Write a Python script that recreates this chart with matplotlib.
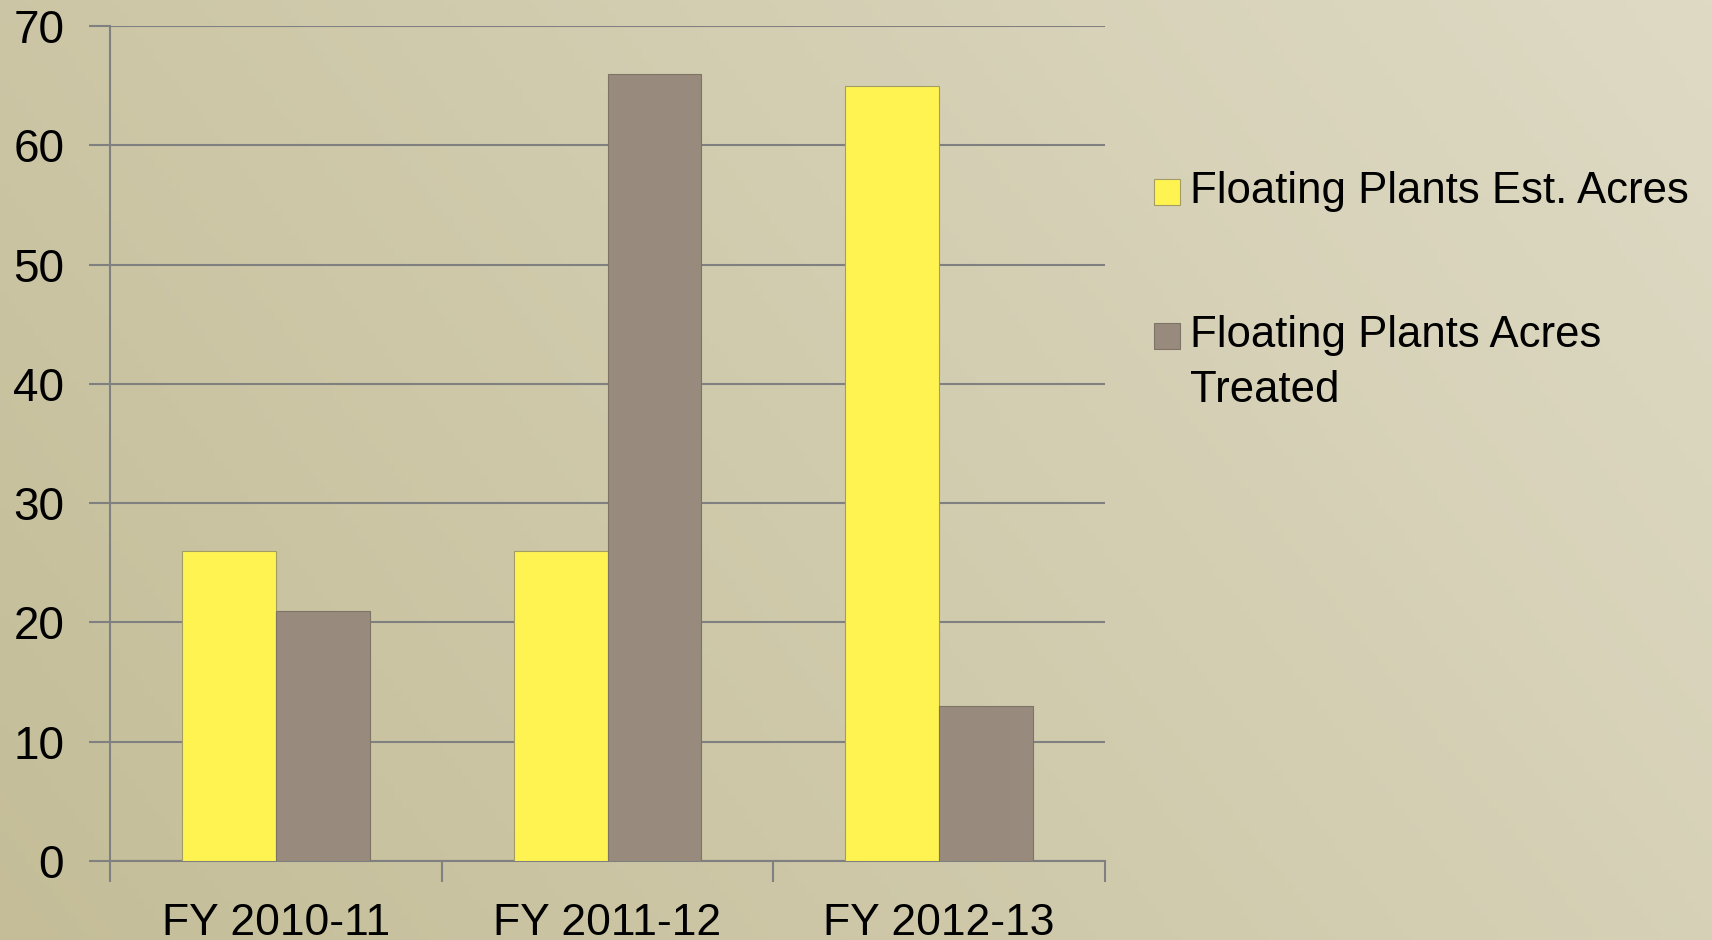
import numpy as np
import matplotlib
matplotlib.use('Agg')
import matplotlib.pyplot as plt
from matplotlib.patches import Rectangle

plt.rcParams['font.family'] = ['Liberation Sans', 'DejaVu Sans']

categories = ['FY 2010-11', 'FY 2011-12', 'FY 2012-13']
est_acres = [26, 26, 65]
treated_acres = [21, 66, 13]
labels = ['Floating Plants Est. Acres', 'Floating Plants Acres\nTreated']
colors = ['#fff352', '#988b7e']
edges = ['#a39d62', '#7d7466']

fig = plt.figure(figsize=(17.12, 9.4), dpi=100)

# beige paper-like background gradient
bg = fig.add_axes([0, 0, 1, 1], zorder=-10)
gx, gy = np.meshgrid(np.linspace(0, 1, 200), np.linspace(0, 1, 200))
t = np.clip(0.7 * gx + 0.3 * (1 - gy), 0, 1)
c0 = np.array([196, 189, 152]) / 255
c1 = np.array([222, 218, 196]) / 255
img = c0[None, None, :] * (1 - t[..., None]) + c1[None, None, :] * t[..., None]
bg.imshow(img, aspect='auto', extent=[0, 1, 0, 1], origin='upper')
bg.axis('off')

ax = fig.add_axes([0.0643, 0.0840, 0.5811, 0.8883])
ax.set_facecolor('none')

ind = np.arange(len(categories))
w = 0.283
b1 = ax.bar(ind - w / 2, est_acres, w, color=colors[0], edgecolor=edges[0], linewidth=0.8, zorder=3)
b2 = ax.bar(ind + w / 2, treated_acres, w, color=colors[1], edgecolor=edges[1], linewidth=0.8, zorder=3)

ax.set_xlim(-0.5, 2.5)
ax.set_ylim(0, 70)
ax.set_yticks(np.arange(0, 71, 10))
ax.yaxis.grid(True, color='#808080', linewidth=1.5, zorder=1)
ax.tick_params(axis='y', length=15, width=1.5, color='#808080', pad=18, labelsize=33)

ax.set_xticks([-0.5, 0.5, 1.5, 2.5])
ax.set_xticklabels([])
ax.set_xticks(ind, minor=True)
ax.set_xticklabels(categories, minor=True, fontsize=32)
ax.tick_params(axis='x', which='major', length=15, width=1.5, color='#808080')
ax.tick_params(axis='x', which='minor', length=0, pad=30)

for s in ['top', 'right']:
    ax.spines[s].set_visible(False)
for s in ['left', 'bottom']:
    ax.spines[s].set_color('#808080')
    ax.spines[s].set_linewidth(1.5)

# legend drawn by hand so the swatch sits beside the first line
sw = 26 / 1712
sh = 26 / 940
for lab, col, ec, yc in zip(labels, colors, edges, [0.7957, 0.6426]):
    fig.add_artist(Rectangle((0.674, yc - sh / 2), sw, sh, transform=fig.transFigure,
                             facecolor=col, edgecolor=ec, linewidth=0.8))
    fig.text(0.695, yc + 0.022, lab, fontsize=31.5, va='top', ha='left', linespacing=1.42)

fig.savefig('out.png', dpi=100)
